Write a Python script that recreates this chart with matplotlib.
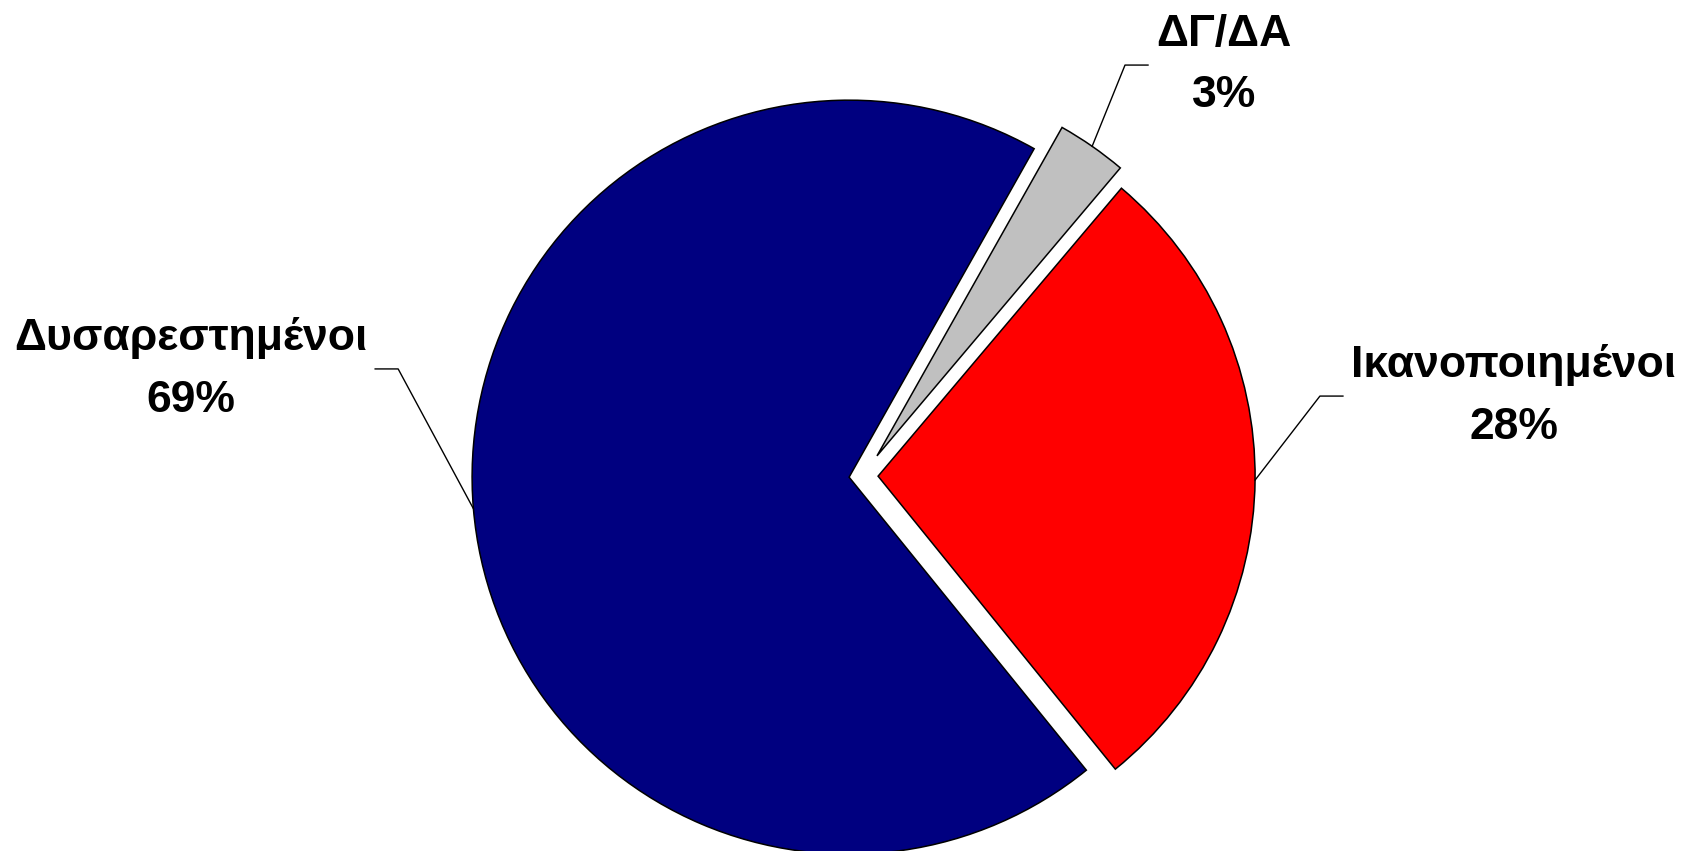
import numpy as np
import matplotlib.pyplot as plt

labels = ['Ικανοποιημένοι', 'ΔΓ/ΔΑ', 'Δυσαρεστημένοι']
values = [28, 3, 69]
colors = ['#FF0000', '#C0C0C0', '#000080']
explode = [0.04, 0.065, 0.037]

# label elbow positions (in pie-radius units) and side of the text
label_pos = [(1.212, 0.212), (0.695, 1.090), (-1.233, 0.284)]
label_side = ['right', 'right', 'left']

plt.rcParams['font.family'] = ['Liberation Sans', 'DejaVu Sans']

fig = plt.figure(figsize=(16.88, 8.51), dpi=100)
ax = fig.add_axes([0, 0, 1, 1])

wedges, _ = ax.pie(values, colors=colors, explode=explode, startangle=-51,
                   counterclock=True, radius=1,
                   wedgeprops=dict(edgecolor='black', linewidth=1.1))

scale = 377.0
ax.set_xlim(-863 / scale, (1688 - 863) / scale)
ax.set_ylim(-375 / scale, (851 - 375) / scale)
ax.set_aspect('equal')
ax.axis('off')

hseg = 23 / scale
gap = 8 / scale
for w, lab, v, (ex, ey), side in zip(wedges, labels, values, label_pos, label_side):
    tm = np.deg2rad((w.theta1 + w.theta2) / 2)
    cx, cy = w.center
    sx, sy = cx + w.r * np.cos(tm), cy + w.r * np.sin(tm)
    d = 1 if side == 'right' else -1
    ax.plot([sx, ex, ex + d * hseg], [sy, ey, ey], color='black', lw=1.0)
    ax.text(ex + d * (hseg + gap), ey, f'{lab}\n{v}%',
            ha='left' if side == 'right' else 'right', va='center',
            multialignment='center', fontsize=32, fontweight='bold',
            linespacing=1.65)

fig.savefig('out.png', dpi=100)
